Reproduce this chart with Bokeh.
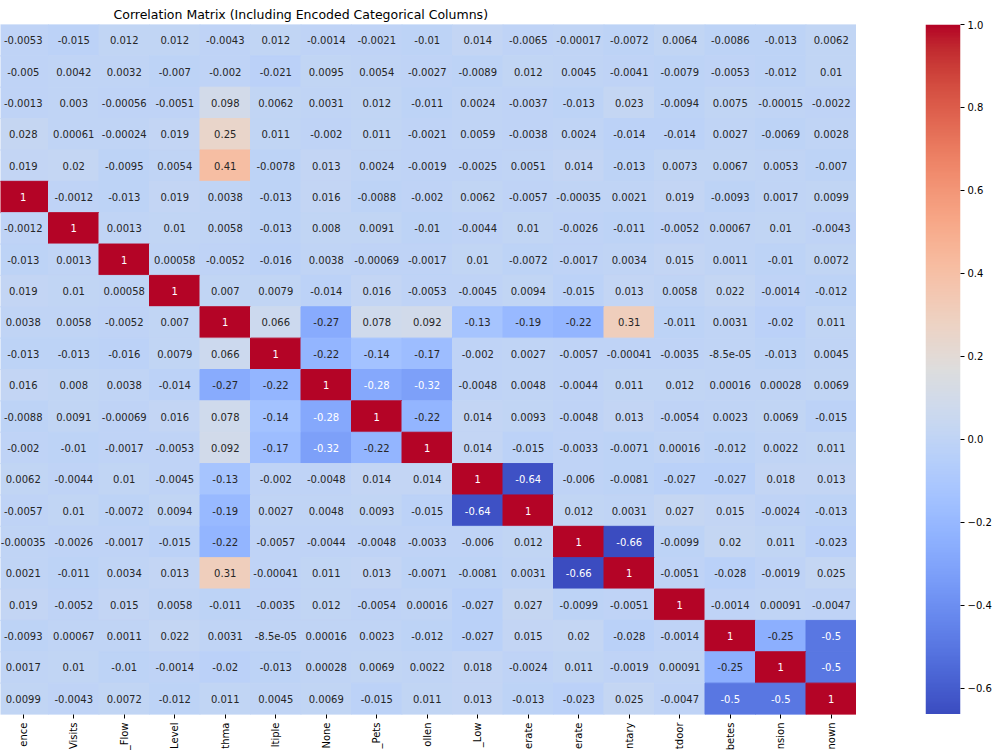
import numpy as np
from bokeh.plotting import figure
from bokeh.models import (Range1d, LinearAxis, FixedTicker, ColumnDataSource,
                          LinearColorMapper)
from bokeh.transform import transform
from bokeh.layouts import row
from bokeh.embed import file_html
from bokeh.resources import INLINE
from bokeh.core.properties import value

# ---------------- data (visible part of the 22x22 correlation matrix) ----------------
title_text = "Correlation Matrix (Including Encoded Categorical Columns)"
n_total = 22          # matrix is 22 x 22
first_col = 5         # first visible column of the (cropped) matrix
col_labels = ["ence", "Visits", "_Flow", "Level", "thma", "ltiple", "None", "_Pets",
              "ollen", "_Low", "erate", "erate", "ntary", "tdoor", "betes", "nsion", "nown"]

r00 = [-0.0053, -0.015, 0.012, 0.012, -0.0043, 0.012, -0.0014, -0.0021, -0.01, 0.014, -0.0065, -0.00017, -0.0072, 0.0064, -0.0086, -0.013, 0.0062]
r01 = [-0.005, 0.0042, 0.0032, -0.007, -0.002, -0.021, 0.0095, 0.0054, -0.0027, -0.0089, 0.012, 0.0045, -0.0041, -0.0079, -0.0053, -0.012, 0.01]
r02 = [-0.0013, 0.003, -0.00056, -0.0051, 0.098, 0.0062, 0.0031, 0.012, -0.011, 0.0024, -0.0037, -0.013, 0.023, -0.0094, 0.0075, -0.00015, -0.0022]
r03 = [0.028, 0.00061, -0.00024, 0.019, 0.25, 0.011, -0.002, 0.011, -0.0021, 0.0059, -0.0038, 0.0024, -0.014, -0.014, 0.0027, -0.0069, 0.0028]
r04 = [0.019, 0.02, -0.0095, 0.0054, 0.41, -0.0078, 0.013, 0.0024, -0.0019, -0.0025, 0.0051, 0.014, -0.013, 0.0073, 0.0067, 0.0053, -0.007]
r05 = [1.0, -0.0012, -0.013, 0.019, 0.0038, -0.013, 0.016, -0.0088, -0.002, 0.0062, -0.0057, -0.00035, 0.0021, 0.019, -0.0093, 0.0017, 0.0099]
r06 = [-0.0012, 1.0, 0.0013, 0.01, 0.0058, -0.013, 0.008, 0.0091, -0.01, -0.0044, 0.01, -0.0026, -0.011, -0.0052, 0.00067, 0.01, -0.0043]
r07 = [-0.013, 0.0013, 1.0, 0.00058, -0.0052, -0.016, 0.0038, -0.00069, -0.0017, 0.01, -0.0072, -0.0017, 0.0034, 0.015, 0.0011, -0.01, 0.0072]
r08 = [0.019, 0.01, 0.00058, 1.0, 0.007, 0.0079, -0.014, 0.016, -0.0053, -0.0045, 0.0094, -0.015, 0.013, 0.0058, 0.022, -0.0014, -0.012]
r09 = [0.0038, 0.0058, -0.0052, 0.007, 1.0, 0.066, -0.27, 0.078, 0.092, -0.13, -0.19, -0.22, 0.31, -0.011, 0.0031, -0.02, 0.011]
r10 = [-0.013, -0.013, -0.016, 0.0079, 0.066, 1.0, -0.22, -0.14, -0.17, -0.002, 0.0027, -0.0057, -0.00041, -0.0035, -8.5e-05, -0.013, 0.0045]
r11 = [0.016, 0.008, 0.0038, -0.014, -0.27, -0.22, 1.0, -0.28, -0.32, -0.0048, 0.0048, -0.0044, 0.011, 0.012, 0.00016, 0.00028, 0.0069]
r12 = [-0.0088, 0.0091, -0.00069, 0.016, 0.078, -0.14, -0.28, 1.0, -0.22, 0.014, 0.0093, -0.0048, 0.013, -0.0054, 0.0023, 0.0069, -0.015]
r13 = [-0.002, -0.01, -0.0017, -0.0053, 0.092, -0.17, -0.32, -0.22, 1.0, 0.014, -0.015, -0.0033, -0.0071, 0.00016, -0.012, 0.0022, 0.011]
r14 = [0.0062, -0.0044, 0.01, -0.0045, -0.13, -0.002, -0.0048, 0.014, 0.014, 1.0, -0.64, -0.006, -0.0081, -0.027, -0.027, 0.018, 0.013]
r15 = [-0.0057, 0.01, -0.0072, 0.0094, -0.19, 0.0027, 0.0048, 0.0093, -0.015, -0.64, 1.0, 0.012, 0.0031, 0.027, 0.015, -0.0024, -0.013]
r16 = [-0.00035, -0.0026, -0.0017, -0.015, -0.22, -0.0057, -0.0044, -0.0048, -0.0033, -0.006, 0.012, 1.0, -0.66, -0.0099, 0.02, 0.011, -0.023]
r17 = [0.0021, -0.011, 0.0034, 0.013, 0.31, -0.00041, 0.011, 0.013, -0.0071, -0.0081, 0.0031, -0.66, 1.0, -0.0051, -0.028, -0.0019, 0.025]
r18 = [0.019, -0.0052, 0.015, 0.0058, -0.011, -0.0035, 0.012, -0.0054, 0.00016, -0.027, 0.027, -0.0099, -0.0051, 1.0, -0.0014, 0.00091, -0.0047]
r19 = [-0.0093, 0.00067, 0.0011, 0.022, 0.0031, -8.5e-05, 0.00016, 0.0023, -0.012, -0.027, 0.015, 0.02, -0.028, -0.0014, 1.0, -0.25, -0.5]
r20 = [0.0017, 0.01, -0.01, -0.0014, -0.02, -0.013, 0.00028, 0.0069, 0.0022, 0.018, -0.0024, 0.011, -0.0019, 0.00091, -0.25, 1.0, -0.5]
r21 = [0.0099, -0.0043, 0.0072, -0.012, 0.011, 0.0045, 0.0069, -0.015, 0.011, 0.013, -0.013, -0.023, 0.025, -0.0047, -0.5, -0.5, 1.0]
rows = [r00, r01, r02, r03, r04, r05, r06, r07, r08, r09, r10,
        r11, r12, r13, r14, r15, r16, r17, r18, r19, r20, r21]

color_low = -0.663    # minimum correlation in the full matrix
color_high = 1.0
cbar_ticks = [-0.6, -0.4, -0.2, 0.0, 0.2, 0.4, 0.6, 0.8, 1.0]

# ---------------- coolwarm palette ----------------
_cw = [(59, 76, 192), (68, 90, 204), (77, 104, 215), (87, 117, 225), (98, 130, 234),
       (108, 142, 241), (119, 154, 247), (130, 165, 251), (141, 176, 254), (152, 185, 255),
       (163, 194, 255), (174, 201, 253), (184, 208, 249), (194, 213, 244), (204, 217, 238),
       (213, 219, 230), (221, 221, 221), (229, 216, 209), (236, 211, 197), (241, 204, 184),
       (245, 196, 172), (247, 187, 159), (247, 177, 147), (247, 166, 134), (244, 154, 123),
       (241, 141, 111), (236, 127, 99), (229, 112, 88), (222, 96, 77), (213, 80, 66),
       (203, 62, 56), (192, 40, 47), (180, 4, 38)]
_cw = np.array(_cw, dtype=float)
_pos = np.linspace(0, 1, len(_cw))
_t = np.linspace(0, 1, 256)
_rgb = np.stack([np.interp(_t, _pos, _cw[:, k]) for k in range(3)], axis=1)
palette = ["#%02x%02x%02x" % tuple(int(round(c)) for c in rgb) for rgb in _rgb]

mapper = LinearColorMapper(palette=palette, low=color_low, high=color_high)


def text_color_for(v):
    idx = int((v - color_low) / (color_high - color_low) * 256)
    idx = min(max(idx, 0), 255)
    rgb = _rgb[idx] / 255.0
    lin = np.where(rgb <= 0.03928, rgb / 12.92, ((rgb + 0.055) / 1.055) ** 2.4)
    lum = lin.dot([0.2126, 0.7152, 0.0722])
    return "#262626" if lum > 0.408 else "#ffffff"


xs, ys, vals, txt, tcol = [], [], [], [], []
for i, r in enumerate(rows):
    for j, v in enumerate(r):
        xs.append(first_col + j + 0.5)
        ys.append(i + 0.5)
        vals.append(v)
        txt.append(format(v, ".2g"))
        tcol.append(text_color_for(v))

src = ColumnDataSource(dict(x=xs, y=ys, v=vals, t=txt, c=tcol))

# ---------------- main heatmap ----------------
cell_px = 50.5
frame_w = 856
frame_h = 690
p = figure(frame_width=frame_w, frame_height=frame_h,
           x_range=Range1d(n_total - frame_w / cell_px, n_total),
           y_range=Range1d(n_total, 0),
           x_axis_type=None, y_axis_type=None,
           toolbar_location=None, output_backend="svg",
           min_border_left=0, min_border_right=0, min_border_top=24, min_border_bottom=0)
p.outline_line_color = None
p.background_fill_color = "white"
p.border_fill_color = "white"
p.xgrid.visible = False
p.ygrid.visible = False

p.title.text = title_text
p.title.align = "left"
p.title.offset = 113
p.title.text_font = "DejaVu Sans"
p.title.text_font_size = "12.5px"
p.title.text_font_style = "normal"
p.title.text_color = "black"
p.title.standoff = 6

p.rect(x="x", y="y", width=1, height=1, source=src,
       fill_color=transform("v", mapper), line_color=transform("v", mapper), line_width=1)
p.text(x="x", y="y", text="t", source=src, text_color="c",
       text_align="center", text_baseline="middle",
       text_font=value("DejaVu Sans"), text_font_size=value("10px"))

centers = [first_col + j + 0.5 for j in range(len(col_labels))]
xaxis = LinearAxis(ticker=FixedTicker(ticks=centers),
                   major_label_overrides={c: lab for c, lab in zip(centers, col_labels)})
xaxis.major_label_orientation = np.pi / 2
xaxis.axis_line_color = None
xaxis.major_tick_in = 0
xaxis.major_tick_out = 4
xaxis.major_tick_line_color = "black"
xaxis.minor_tick_line_color = None
xaxis.major_label_standoff = 4
xaxis.major_label_text_font = "DejaVu Sans"
xaxis.major_label_text_font_size = "10px"
xaxis.major_label_text_color = "black"
p.add_layout(xaxis, "below")

# ---------------- colour bar ----------------
cb = figure(frame_width=35, frame_height=frame_h,
            x_range=Range1d(0, 1), y_range=Range1d(color_low, color_high),
            x_axis_type=None, y_axis_type=None,
            toolbar_location=None, output_backend="svg",
            min_border_left=69, min_border_right=0, min_border_top=24, min_border_bottom=0)
cb.outline_line_color = None
cb.xgrid.visible = False
cb.ygrid.visible = False
grad = np.linspace(color_low, color_high, 512).reshape(-1, 1)
cb.image(image=[grad], x=0, y=color_low, dw=1, dh=color_high - color_low, color_mapper=mapper)

cax = LinearAxis(ticker=FixedTicker(ticks=cbar_ticks),
                 major_label_overrides={t: ("%.1f" % t).replace("-", "\u2212") for t in cbar_ticks})
cax.axis_line_color = None
cax.major_tick_in = 0
cax.major_tick_out = 4
cax.major_tick_line_color = "black"
cax.minor_tick_line_color = None
cax.major_label_standoff = 3
cax.major_label_text_font = "DejaVu Sans"
cax.major_label_text_font_size = "10px"
cax.major_label_text_color = "black"
cb.add_layout(cax, "right")

layout = row(p, cb)
open("out.html", "w").write(file_html(layout, INLINE))
